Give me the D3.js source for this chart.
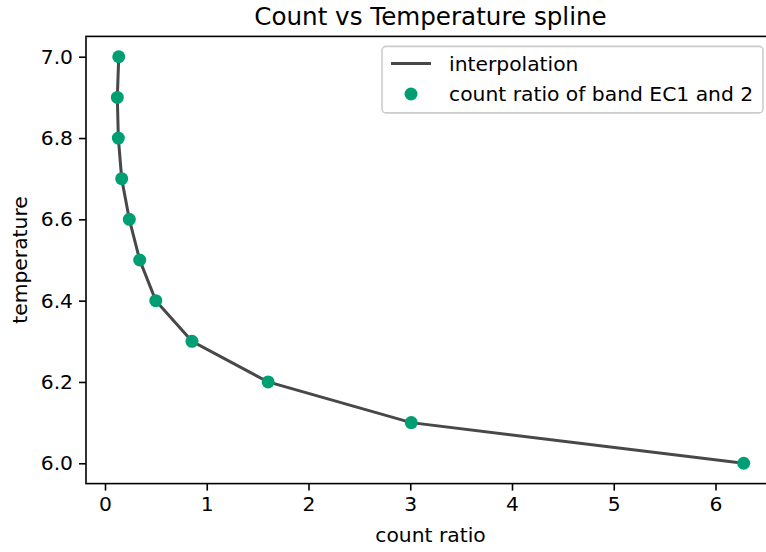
<!DOCTYPE html>
<html><head><meta charset="utf-8">
<script src="https://cdn.jsdelivr.net/npm/d3@7"></script>
<style>body{margin:0;background:#fff}svg{display:block}text{font-family:"DejaVu Sans",sans-serif;fill:#000}</style>
</head><body><svg id="c" width="766" height="552"></svg>
<script>
const countRatio = [0.135, 0.121, 0.131, 0.164, 0.239, 0.341, 0.499, 0.855, 1.603, 3.010, 6.277];
const temperature = [7.0, 6.9, 6.8, 6.7, 6.6, 6.5, 6.4, 6.3, 6.2, 6.1, 6.0];
const xTicks = [0, 1, 2, 3, 4, 5, 6];
const yTicks = [6.0, 6.2, 6.4, 6.6, 6.8, 7.0];
const titleText = "Count vs Temperature spline";
const xLabel = "count ratio";
const yLabel = "temperature";
const legendLabels = ["interpolation", "count ratio of band EC1 and 2"];

const svg = d3.select("#c");
const L = 86, T = 36.4, R = 775, B = 483.6;
const xe = d3.extent(countRatio), ye = d3.extent(temperature);
const xm = (xe[1]-xe[0])*0.05, ym = (ye[1]-ye[0])*0.05;
const x = d3.scaleLinear().domain([xe[0]-xm, xe[1]+xm]).range([L, R]);
const y = d3.scaleLinear().domain([ye[0]-ym, ye[1]+ym]).range([B, T]);

const pts = countRatio.map((v,i)=>[v, temperature[i]]);
const line = d3.line().x(d=>x(d[0])).y(d=>y(d[1])).curve(d3.curveLinear);
svg.append("path").attr("d", line(pts)).attr("fill","none").attr("stroke","#484848").attr("stroke-width",3).attr("stroke-linecap","butt");
svg.selectAll("circle.p").data(pts).join("circle").attr("class","p")
  .attr("cx",d=>x(d[0])).attr("cy",d=>y(d[1])).attr("r",6.5).attr("fill","#009E73");

// axes
const xa = d3.axisBottom(x).tickValues(xTicks).tickFormat(d3.format("d")).tickSizeOuter(0).tickSize(7).tickPadding(6);
const ya = d3.axisLeft(y).tickValues(yTicks).tickFormat(d3.format(".1f")).tickSizeOuter(0).tickSize(7).tickPadding(6);
const gx = svg.append("g").attr("transform",`translate(0,${B})`).call(xa);
const gy = svg.append("g").attr("transform",`translate(${L},0)`).call(ya);
[gx,gy].forEach(g=>{
  g.select(".domain").remove();
  g.selectAll(".tick line").attr("stroke","#000").attr("stroke-width",1.6);
  g.selectAll(".tick text").attr("font-size",20.3).attr("font-family","DejaVu Sans").attr("fill","#000");
});
// spines
svg.append("rect").attr("x",L).attr("y",T).attr("width",R-L).attr("height",B-T)
  .attr("fill","none").attr("stroke","#000").attr("stroke-width",1.6);

svg.append("text").attr("x",(L+R)/2).attr("y",25).attr("text-anchor","middle").attr("font-size",24.6).text(titleText);
svg.append("text").attr("x",(L+R)/2).attr("y",542).attr("text-anchor","middle").attr("font-size",20.3).text(xLabel);
svg.append("text").attr("transform",`translate(27,${(T+B)/2}) rotate(-90)`).attr("text-anchor","middle").attr("font-size",20.3).text(yLabel);

// legend
const lg = svg.append("g");
lg.append("rect").attr("x",382).attr("y",46.4).attr("width",381).attr("height",66.5).attr("rx",4)
  .attr("fill","#fff").attr("fill-opacity",0.8).attr("stroke","#cccccc").attr("stroke-width",1.6);
lg.append("line").attr("x1",391).attr("x2",431).attr("y1",63.5).attr("y2",63.5).attr("stroke","#484848").attr("stroke-width",3);
lg.append("circle").attr("cx",411).attr("cy",94).attr("r",6.5).attr("fill","#009E73");
lg.append("text").attr("x",449).attr("y",70.5).attr("font-size",20.3).text(legendLabels[0]);
lg.append("text").attr("x",449).attr("y",101).attr("font-size",20.3).text(legendLabels[1]);
</script></body></html>
